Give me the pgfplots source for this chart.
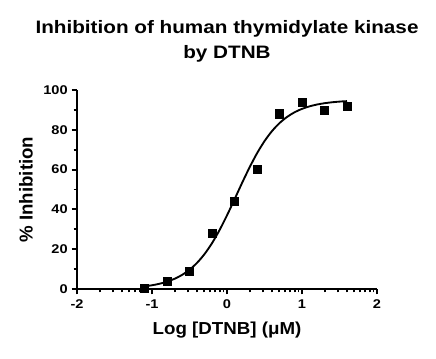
\documentclass[border=0pt]{standalone}
\usepackage{fontspec}
\setmainfont{Liberation Sans}
\newfontfamily\stretchfont[FakeStretch=1.15]{Liberation Sans}
\newfontfamily\xlabfont[FakeStretch=1.08]{Liberation Sans}
\usepackage{pgfplots}
\pgfplotsset{compat=1.18}
\begin{document}
\begin{tikzpicture}
\useasboundingbox (-57.75pt,-51.75pt) rectangle (269.25pt,216.75pt);
\begin{axis}[
  at={(0,0)}, anchor=south west,
  scale only axis, width=225pt, height=149.25pt,
  xmin=-2, xmax=2, ymin=0, ymax=100,
  axis x line*=bottom, axis y line*=left,
  axis line style={line width=2pt, -},
  xtick={-2,-1,0,1,2}, ytick={0,20,40,60,80,100},
  minor xtick={-1.699,-1.523,-1.398,-1.301,-1.222,-1.155,-1.097,-1.046,
               -0.699,-0.523,-0.398,-0.301,-0.222,-0.155,-0.097,-0.046,
               0.301,0.477,0.602,0.699,0.778,0.845,0.903,0.954,
               1.301,1.477,1.602,1.699,1.778,1.845,1.903,1.954},
  minor ytick={10,30,50,70,90},
  tick align=outside,
  major tick length=4pt, minor tick length=2.5pt,
  every tick/.style={line width=1.4pt, black},
  tick label style={font=\stretchfont\fontsize{9.5pt}{11pt}\selectfont\bfseries},
  /pgf/number format/assume math mode=true,
  xticklabel style={yshift=-0.5pt},
  yticklabel style={xshift=0.5pt},
  xlabel={Log [DTNB] (μM)},
  ylabel={\% Inhibition},
  xlabel style={font=\xlabfont\fontsize{13pt}{16pt}\selectfont\bfseries, yshift=-3pt},
  ylabel style={font=\fontsize{14pt}{16pt}\selectfont\bfseries, yshift=1pt},
  clip=false,
]
\addplot[black, line width=1.4pt, smooth] coordinates {
(-1.1,1.338) (-1.0,1.879) (-0.9,2.633) (-0.8,3.678) (-0.7,5.113) (-0.6,7.063)
(-0.5,9.684) (-0.4,13.13) (-0.3,17.54) (-0.2,23.02) (-0.1,29.57) (0.0,37.01)
(0.1,45.04) (0.2,53.22) (0.3,61.05) (0.4,68.17) (0.5,74.30) (0.6,79.35)
(0.7,83.36) (0.8,86.45) (0.9,88.79) (1.0,90.52) (1.1,91.78) (1.2,92.70)
(1.3,93.36) (1.4,93.83) (1.5,94.17) (1.6,94.41)
};
\addplot[only marks, mark=square*, mark size=3.1pt, black] coordinates {
(-1.1,0.5) (-0.8,4) (-0.5,9) (-0.2,28) (0.1,44) (0.4,60)
(0.7,88) (1.0,94) (1.3,90) (1.6,92)
};
\node[font=\stretchfont\fontsize{13.5pt}{18.75pt}\selectfont\bfseries, align=center, anchor=south]
  at (rel axis cs:0.5,1) [yshift=17pt] {Inhibition of human thymidylate kinase\\by DTNB};
\end{axis}
\end{tikzpicture}
\end{document}
